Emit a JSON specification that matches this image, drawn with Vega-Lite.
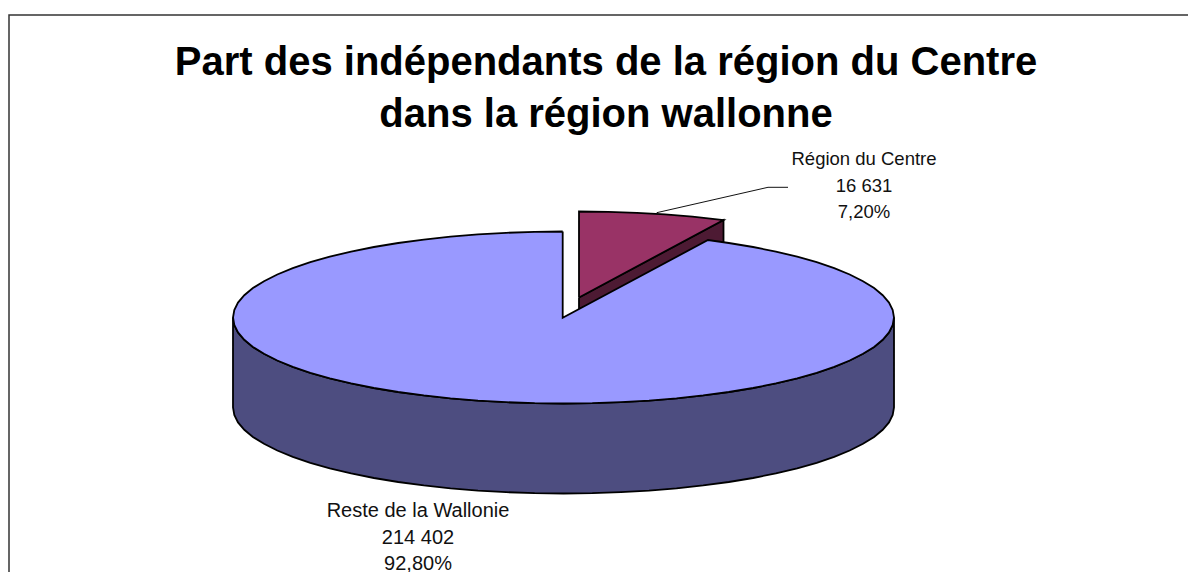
{
"$schema":"https://vega.github.io/schema/vega-lite/v6.json",
"width":1188,"height":572,"padding":0,
"autosize":{"type":"none"},
"background":"white",
"view":{"stroke":null},
"title":{"text":["Part des indépendants de la région du Centre","dans la région wallonne"],"orient":"none","anchor":"start","align":"center","dx":606,"dy":75,"baseline":"alphabetic","font":"Liberation Sans","fontWeight":"bold","fontSize":40,"lineHeight":52,"color":"black"},
"datasets":{
"frame":[{"i":0,"x":9,"y":572},{"i":1,"x":9,"y":15},{"i":2,"x":1188,"y":15}],
"leader":[{"i":0,"x":656.7,"y":212.7},{"i":1,"x":768,"y":187.3},{"i":2,"x":788,"y":187.3}],
"slices":[
{"slice":"Région du Centre","value":16631,"share":7.2,"label":"Région du Centre\n16 631\n7,20%","x":864,"y":150},
{"slice":"Reste de la Wallonie","value":214402,"share":92.8,"label":"Reste de la Wallonie\n214 402\n92,80%","x":418,"y":501}
],
"blueSide":[
{"i":0,"x":233,"y":317.5},{"i":1,"x":234.3,"y":325},{"i":2,"x":238,"y":332.4},{"i":3,"x":244.3,"y":339.8},{"i":4,"x":252.9,"y":346.9},{"i":5,"x":264,"y":353.8},{"i":6,"x":277.3,"y":360.5},{"i":7,"x":292.8,"y":366.8},{"i":8,"x":310.3,"y":372.8},{"i":9,"x":329.8,"y":378.3},{"i":10,"x":351.1,"y":383.4},{"i":11,"x":373.9,"y":388},{"i":12,"x":398.2,"y":392},{"i":13,"x":423.8,"y":395.4},{"i":14,"x":450.5,"y":398.3},{"i":15,"x":478,"y":400.6},{"i":16,"x":506.1,"y":402.2},{"i":17,"x":534.7,"y":403.2},{"i":18,"x":563.5,"y":403.5},{"i":19,"x":592.3,"y":403.2},{"i":20,"x":620.9,"y":402.2},{"i":21,"x":649,"y":400.6},{"i":22,"x":676.5,"y":398.3},{"i":23,"x":703.2,"y":395.4},{"i":24,"x":728.8,"y":392},{"i":25,"x":753.1,"y":388},{"i":26,"x":775.9,"y":383.4},{"i":27,"x":797.2,"y":378.3},{"i":28,"x":816.7,"y":372.8},{"i":29,"x":834.2,"y":366.8},{"i":30,"x":849.7,"y":360.5},{"i":31,"x":863,"y":353.8},{"i":32,"x":874.1,"y":346.9},{"i":33,"x":882.7,"y":339.8},{"i":34,"x":889,"y":332.4},{"i":35,"x":892.7,"y":325},{"i":36,"x":894,"y":317.5},
{"i":37,"x":894,"y":407.5},{"i":38,"x":892.7,"y":415},{"i":39,"x":889,"y":422.4},{"i":40,"x":882.7,"y":429.8},{"i":41,"x":874.1,"y":436.9},{"i":42,"x":863,"y":443.8},{"i":43,"x":849.7,"y":450.5},{"i":44,"x":834.2,"y":456.8},{"i":45,"x":816.7,"y":462.8},{"i":46,"x":797.2,"y":468.3},{"i":47,"x":775.9,"y":473.4},{"i":48,"x":753.1,"y":478},{"i":49,"x":728.8,"y":482},{"i":50,"x":703.2,"y":485.4},{"i":51,"x":676.5,"y":488.3},{"i":52,"x":649,"y":490.6},{"i":53,"x":620.9,"y":492.2},{"i":54,"x":592.3,"y":493.2},{"i":55,"x":563.5,"y":493.5},{"i":56,"x":534.7,"y":493.2},{"i":57,"x":506.1,"y":492.2},{"i":58,"x":478,"y":490.6},{"i":59,"x":450.5,"y":488.3},{"i":60,"x":423.8,"y":485.4},{"i":61,"x":398.2,"y":482},{"i":62,"x":373.9,"y":478},{"i":63,"x":351.1,"y":473.4},{"i":64,"x":329.8,"y":468.3},{"i":65,"x":310.3,"y":462.8},{"i":66,"x":292.8,"y":456.8},{"i":67,"x":277.3,"y":450.5},{"i":68,"x":264,"y":443.8},{"i":69,"x":252.9,"y":436.9},{"i":70,"x":244.3,"y":429.8},{"i":71,"x":238,"y":422.4},{"i":72,"x":234.3,"y":415},{"i":73,"x":233,"y":407.5},{"i":74,"x":233,"y":317.5}
],
"redSide":[{"i":0,"x":579,"y":297.5},{"i":1,"x":723.5,"y":220},{"i":2,"x":723.5,"y":243},{"i":3,"x":579,"y":309},{"i":4,"x":579,"y":297.5}],
"blueTop":[
{"i":0,"x":562.7,"y":231.5},{"i":1,"x":534.7,"y":231.8},{"i":2,"x":506.1,"y":232.8},{"i":3,"x":478,"y":234.4},{"i":4,"x":450.5,"y":236.7},{"i":5,"x":423.8,"y":239.6},{"i":6,"x":398.2,"y":243},{"i":7,"x":373.9,"y":247},{"i":8,"x":351.1,"y":251.6},{"i":9,"x":329.8,"y":256.7},{"i":10,"x":310.3,"y":262.2},{"i":11,"x":292.8,"y":268.2},{"i":12,"x":277.3,"y":274.5},{"i":13,"x":264,"y":281.2},{"i":14,"x":252.9,"y":288.1},{"i":15,"x":244.3,"y":295.2},{"i":16,"x":238,"y":302.6},{"i":17,"x":234.3,"y":310},{"i":18,"x":233,"y":317.5},
{"i":19,"x":234.3,"y":325},{"i":20,"x":238,"y":332.4},{"i":21,"x":244.3,"y":339.8},{"i":22,"x":252.9,"y":346.9},{"i":23,"x":264,"y":353.8},{"i":24,"x":277.3,"y":360.5},{"i":25,"x":292.8,"y":366.8},{"i":26,"x":310.3,"y":372.8},{"i":27,"x":329.8,"y":378.3},{"i":28,"x":351.1,"y":383.4},{"i":29,"x":373.9,"y":388},{"i":30,"x":398.2,"y":392},{"i":31,"x":423.8,"y":395.4},{"i":32,"x":450.5,"y":398.3},{"i":33,"x":478,"y":400.6},{"i":34,"x":506.1,"y":402.2},{"i":35,"x":534.7,"y":403.2},{"i":36,"x":563.5,"y":403.5},{"i":37,"x":592.3,"y":403.2},{"i":38,"x":620.9,"y":402.2},{"i":39,"x":649,"y":400.6},{"i":40,"x":676.5,"y":398.3},{"i":41,"x":703.2,"y":395.4},{"i":42,"x":728.8,"y":392},{"i":43,"x":753.1,"y":388},{"i":44,"x":775.9,"y":383.4},{"i":45,"x":797.2,"y":378.3},{"i":46,"x":816.7,"y":372.8},{"i":47,"x":834.2,"y":366.8},{"i":48,"x":849.7,"y":360.5},{"i":49,"x":863,"y":353.8},{"i":50,"x":874.1,"y":346.9},{"i":51,"x":882.7,"y":339.8},{"i":52,"x":889,"y":332.4},{"i":53,"x":892.7,"y":325},{"i":54,"x":894,"y":317.5},
{"i":55,"x":892.7,"y":310},{"i":56,"x":889,"y":302.6},{"i":57,"x":882.7,"y":295.2},{"i":58,"x":874.1,"y":288.1},{"i":59,"x":863,"y":281.2},{"i":60,"x":849.7,"y":274.5},{"i":61,"x":834.2,"y":268.2},{"i":62,"x":816.7,"y":262.2},{"i":63,"x":797.2,"y":256.7},{"i":64,"x":775.9,"y":251.6},{"i":65,"x":753.1,"y":247},{"i":66,"x":728.8,"y":243},{"i":67,"x":708,"y":240},{"i":68,"x":562.7,"y":317.7},{"i":69,"x":562.7,"y":231.5}
],
"redTop":[{"i":0,"x":579,"y":297.5},{"i":1,"x":579,"y":211.5},{"i":2,"x":608.3,"y":211.8},{"i":3,"x":636.9,"y":212.8},{"i":4,"x":665,"y":214.4},{"i":5,"x":692.5,"y":216.7},{"i":6,"x":719.2,"y":219.6},{"i":7,"x":723.5,"y":220},{"i":8,"x":579,"y":297.5}]
},
"encoding":{
"x":{"field":"x","type":"quantitative","scale":{"domain":[0,1188]},"axis":null},
"y":{"field":"y","type":"quantitative","scale":{"domain":[572,0]},"axis":null},
"order":{"field":"i"}
},
"layer":[
{"data":{"name":"frame"},"mark":{"type":"line","stroke":"#333333","strokeWidth":1.5,"clip":true}},
{"data":{"name":"blueSide"},"mark":{"type":"line","fill":"#4D4D80","stroke":"black","strokeWidth":1.8}},
{"data":{"name":"redSide"},"mark":{"type":"line","fill":"#4D1A33","stroke":"black","strokeWidth":1.8}},
{"data":{"name":"blueTop"},"mark":{"type":"line","fill":"#9999FF","stroke":"black","strokeWidth":1.8}},
{"data":{"name":"redTop"},"mark":{"type":"line","fill":"#993366","stroke":"black","strokeWidth":1.8}},
{"data":{"name":"leader"},"mark":{"type":"line","stroke":"#111111","strokeWidth":1}},
{"data":{"name":"slices"},"transform":[{"filter":"datum.value < 100000"}],"mark":{"type":"text","font":"Liberation Sans","fontSize":18.5,"color":"#111111","align":"center","baseline":"top","lineBreak":"\n","lineHeight":26.5},"encoding":{"text":{"field":"label"},"order":{"value":null}}},
{"data":{"name":"slices"},"transform":[{"filter":"datum.value > 100000"}],"mark":{"type":"text","font":"Liberation Sans","fontSize":20,"color":"#111111","align":"center","baseline":"top","lineBreak":"\n","lineHeight":26.5},"encoding":{"text":{"field":"label"},"order":{"value":null}}}
]
}
